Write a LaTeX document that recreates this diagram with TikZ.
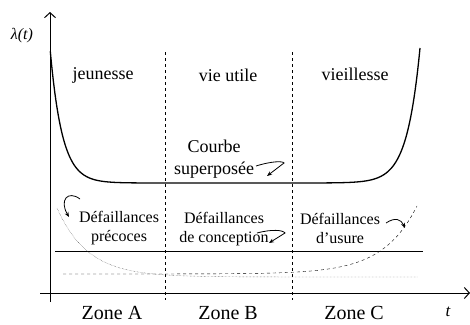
\documentclass[tikz,border=0pt]{standalone}
\usepackage{fontspec}
\setmainfont{Liberation Serif}
\usepackage{tikz}
\usetikzlibrary{arrows.meta}

\tikzset{
    zonetxt/.style={font=\fontsize{18}{20}\selectfont},
    failtxt/.style={font=\fontsize{16}{19}\selectfont, align=center},
    basetxt/.style={font=\fontsize{20}{22}\selectfont, anchor=base, inner sep=0pt},
    axisline/.style={line width=1pt, -{Straight Barb[length=5pt, width=11pt]}},
    hookarrow/.style={thick, -{Stealth[length=5pt, width=4pt]}}
}

\begin{document}
\begin{tikzpicture}[x=1pt, y=1pt]
    \useasboundingbox (0, -324) rectangle (470, 0);
    \coordinate (ybot) at (50, -302);
    \coordinate (ytop) at (50, -12);
    \coordinate (xbeg) at (40, -293);
    \coordinate (xend) at (470, -293);
    \draw[axisline] (ybot) -- (ytop);
    \draw[axisline] (xbeg) -- (xend);
    \node[font=\fontsize{16}{18}\selectfont\itshape] (lam) at (22, -36) {λ(t)};
    \node[font=\fontsize{17}{18}\selectfont\itshape] (tlab) at (448, -312) {t};

    \draw[dashed] (165, -52) -- (165, -300);
    \draw[dashed] (292, -52) -- (292, -300);

    \draw[line width=1.3pt, domain=50.3:420, samples=300, smooth, variable=\x]
        plot ({\x}, {-183 + 135*exp(-(\x - 50)/12) + 135*exp((\x - 420)/13)});
    \draw[semithick] (55, -251) -- (423, -251);
    \draw[dashed, domain=63:417, samples=80, smooth, variable=\x]
        plot ({\x}, {-274 + 68*exp((\x - 417)/34)});
    \draw[densely dotted, black!75, domain=57:418, samples=120, smooth, variable=\x]
        plot ({\x}, {-277 + 69*exp(-(\x - 57)/31)});

    \node[zonetxt] (jeu) at (103, -75) {jeunesse};
    \node[zonetxt] (vie) at (228, -75) {vie utile};
    \node[zonetxt] (vieil) at (355, -74) {vieillesse};

    \node[zonetxt, align=center, font=\fontsize{18}{22}\selectfont] (courbe) at (214, -159) {Courbe\\superposée};
    \node[failtxt] (preco) at (119, -228) {Défaillances\\précoces};
    \node[failtxt] (concep) at (224, -229) {Défaillances\\de conception};
    \node[failtxt] (usure) at (340, -228) {Défaillances\\d’usure};

    \coordinate (supA) at (256, -166);
    \coordinate (supB) at (267, -176);
    \draw[hookarrow] (supA) .. controls (272, -161) and (283, -161) .. (284, -163) -- (supB);
    \coordinate (conA) at (257, -233);
    \coordinate (conB) at (269, -243);
    \draw[hookarrow] (conA) .. controls (272, -229) and (283, -230) .. (285, -233) -- (conB);
    \coordinate (preA) at (80, -199);
    \coordinate (preB) at (69, -217);
    \draw[hookarrow] (preA) .. controls (68, -190) and (59, -200) .. (preB);
    \coordinate (usuA) at (386, -223);
    \coordinate (usuB) at (405, -228);
    \draw[hookarrow] (usuA) .. controls (395, -217) and (401, -219) .. (usuB);

    \node[basetxt] (zoneA) at (112, -319.5) {Zone A};
    \node[basetxt] (zoneB) at (228, -319.5) {Zone B};
    \node[basetxt] (zoneC) at (354, -319.5) {Zone C};
\end{tikzpicture}
\end{document}
